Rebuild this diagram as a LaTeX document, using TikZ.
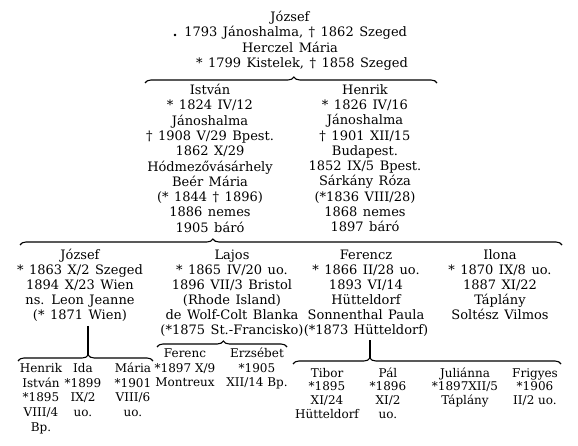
\documentclass[tikz,border=0pt]{standalone}
\usepackage{fontspec}
\setmainfont{DejaVu Serif}
\usetikzlibrary{decorations.pathreplacing}
\newcommand\tp{\rule{0pt}{10pt}}
\newcommand\widesp{\spaceskip=5.5pt\relax}
\begin{document}
\begin{tikzpicture}[x=1pt,y=-1pt,
  person/.style={align=center,inner sep=0pt,anchor=north,font=\fontsize{13}{15.3}\selectfont,execute at begin node=\widesp},
  gen/.style={person,font=\fontsize{13}{15}\selectfont},
  kid/.style={align=center,inner sep=0pt,anchor=north,font=\fontsize{12}{14.8}\selectfont},
  kidb/.style={kid,font=\fontsize{12}{13.7}\selectfont},
  brc/.style={decorate,decoration={brace,amplitude=6pt,aspect=#1},line width=1.1pt},
  stem/.style={line width=1.6pt}]
\fill[white] (0,0) rectangle (578,446);
\useasboundingbox (0,0) rectangle (578,446);
% generation 1
\node[person] (j0) at (290,11) {\tp József\\ {\bfseries .} 1793 Jánoshalma, † 1862 Szeged\\ Herczel Mária\\ \rule{24pt}{0pt}* 1799 Kistelek, † 1858 Szeged};
\coordinate (b1l) at (145,83); \coordinate (b1r) at (437,83);
\draw[brc=0.51] (b1l) -- (b1r);
% generation 2
\node[person] (istvan) at (210,84) {\tp István\\ * 1824 IV/12\\ Jánoshalma\\ † 1908 V/29 Bpest.\\ 1862 X/29\\ Hódmezővásárhely\\ Beér Mária\\ (* 1844 † 1896)\\ 1886 nemes\\ 1905 báró};
\node[person] (henrik) at (365,84) {\tp Henrik\\ * 1826 IV/16\\ Jánoshalma\\ † 1901 XII/15\\ Budapest.\\ 1852 IX/5 Bpest.\\ Sárkány Róza\\ (*1836 VIII/28)\\ 1868 nemes\\ 1897 báró};
\coordinate (b2l) at (20,245); \coordinate (b2r) at (562,245);
\draw[brc=0.356] (b2l) -- (b2r);
% generation 3
\node[gen] (jozsef) at (80,249) {\tp József\\ * 1863 X/2 Szeged\\ 1894 X/23 Wien\\ ns. Leon Jeanne\\ (* 1871 Wien)};
\node[gen] (lajos) at (232,249) {\tp Lajos\\ * 1865 IV/20 uo.\\ 1896 VII/3 Bristol\\ (Rhode Island)\\ de Wolf-Colt Blanka\\ (*1875 St.-Francisko)};
\node[gen] (ferencz) at (366,249) {\tp Ferencz\\ * 1866 II/28 uo.\\ 1893 VI/14\\ Hütteldorf\\ Sonnenthal Paula\\ (*1873 Hütteldorf)};
\node[gen] (ilona) at (500,249) {\tp Ilona\\ * 1870 IX/8 uo.\\ 1887 XI/22\\ Táplány\\ Soltész Vilmos};
% braces of generation 4
\coordinate (b3l) at (18,361); \coordinate (b3r) at (153,361); \coordinate (b3t) at (88,355);
\draw[brc=0.52] (b3l) -- (b3r);
\draw[stem] ([yshift=-4pt]b3t |- jozsef.south) -- (b3t);
\coordinate (b4l) at (157,347); \coordinate (b4r) at (287,347);
\draw[brc=0.51] (b4l) -- (b4r);
\coordinate (b5l) at (293,364); \coordinate (b5r) at (561,364); \coordinate (b5t) at (370,358);
\draw[brc=0.287] (b5l) -- (b5r);
\draw[stem] ([yshift=-4pt]b5t |- ferencz.south) -- (b5t);
% generation 4
\node[kid] (henrik2) at (41,362) {\tp Henrik\\ István\\ *1895\\ VIII/4\\ Bp.};
\node[kid] (ida) at (83,362) {\tp Ida\\ *1899\\ IX/2\\ uo.};
\node[kid] (maria) at (133,362) {\tp Mária\\ *1901\\ VIII/6\\ uo.};
\node[kid] (ferenc) at (185,347) {\tp Ferenc\\ *1897 X/9\\ Montreux};
\node[kid] (erzsebet) at (257,347) {\tp Erzsébet\\ *1905\\ XII/14 Bp.};
\node[kidb] (tibor) at (327,367) {\tp Tibor\\ *1895\\ XI/24\\ Hütteldorf};
\node[kidb] (pal) at (388,367) {\tp Pál\\ *1896\\ XI/2\\ uo.};
\node[kidb] (julianna) at (465,367) {\tp Juliánna\\ *1897XII/5\\ Táplány};
\node[kidb] (frigyes) at (535,367) {\tp Frigyes\\ *1906\\ II/2 uo.};
\end{tikzpicture}
\end{document}
